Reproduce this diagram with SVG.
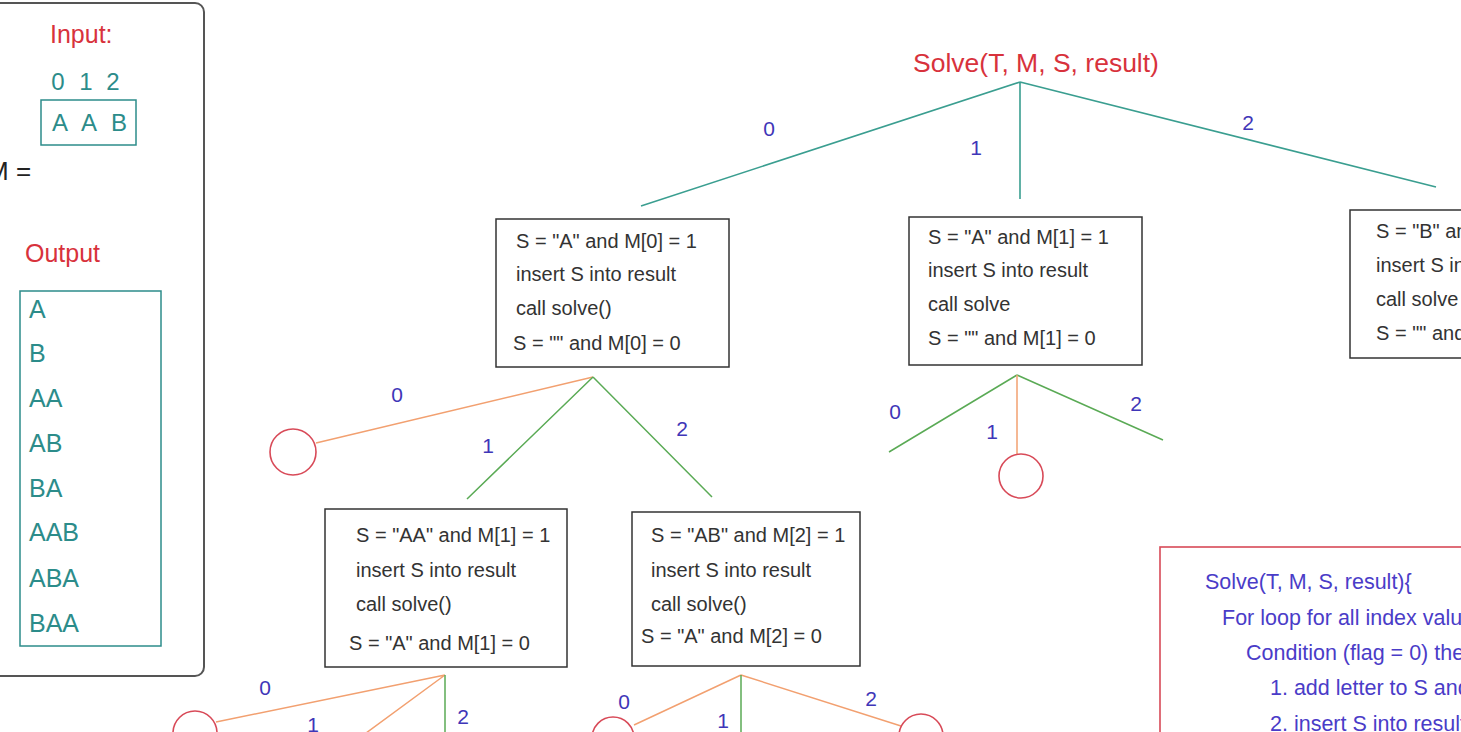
<svg xmlns="http://www.w3.org/2000/svg" width="1461" height="732" viewBox="0 0 1461 732">
<style>
text{font-family:"Liberation Sans",Arial,sans-serif}
.box{fill:#fff;stroke:#333;stroke-width:1.5}
.bt{font-size:20px;fill:#333}
.lbl{font-size:21px;fill:#3f36b8}
.teal{fill:#2c8c8a}
.red{fill:#d8323c}
.tl{stroke:#3a9e90;stroke-width:1.6;fill:none}
.gl{stroke:#5aaa55;stroke-width:1.5;fill:none}
.ol{stroke:#f2a070;stroke-width:1.5;fill:none}
.circ{fill:none;stroke:#d84a58;stroke-width:1.6}
.code{font-size:21.5px;fill:#4a3cc8}
</style>
<rect x="0" y="0" width="1461" height="732" fill="#fff"/>

<g id="panel">
<rect x="-12" y="3" width="216" height="673" rx="9" fill="#fff" stroke="#555" stroke-width="2"/>
<text x="50" y="43" font-size="25" class="red">Input:</text>
<text x="58" y="90" font-size="24" class="teal" text-anchor="middle">0</text>
<text x="86" y="90" font-size="24" class="teal" text-anchor="middle">1</text>
<text x="113" y="90" font-size="24" class="teal" text-anchor="middle">2</text>
<rect x="41" y="100" width="95" height="45" fill="none" stroke="#2c8c8a" stroke-width="1.5"/>
<text x="60" y="131" font-size="24" class="teal" text-anchor="middle">A</text>
<text x="89" y="131" font-size="24" class="teal" text-anchor="middle">A</text>
<text x="119" y="131" font-size="24" class="teal" text-anchor="middle">B</text>
<text x="-13" y="180" font-size="26" fill="#222">M =</text>
<text x="25" y="262" font-size="25" class="red">Output</text>
<rect x="20" y="291" width="141" height="355" fill="none" stroke="#2c8c8a" stroke-width="1.5"/>
<g font-size="25" class="teal">
<text x="29" y="318">A</text>
<text x="29" y="362">B</text>
<text x="29" y="407">AA</text>
<text x="29" y="452">AB</text>
<text x="29" y="497">BA</text>
<text x="29" y="541">AAB</text>
<text x="29" y="587">ABA</text>
<text x="29" y="632">BAA</text>
</g>
</g>

<g id="connectors">
<path class="tl" d="M1020 82 L641 206 M1020 82 L1020 199 M1020 82 L1436 187"/>
<path class="ol" d="M593 377 L316 443"/>
<path class="gl" d="M593 377 L467 499 M593 377 L712 497"/>
<path class="gl" d="M1017 375 L889 452 M1017 375 L1163 440"/>
<path class="ol" d="M1017 375 L1017 455"/>
<path class="ol" d="M445 675 L216 722 M445 675 L362 736"/>
<path class="gl" d="M445 675 L445 736"/>
<path class="ol" d="M741 675 L634 725 M741 675 L901 726"/>
<path class="gl" d="M741 675 L741 736"/>
<g class="lbl">
<text x="769" y="136" text-anchor="middle">0</text>
<text x="976" y="155" text-anchor="middle">1</text>
<text x="1248" y="130" text-anchor="middle">2</text>
<text x="397" y="402" text-anchor="middle">0</text>
<text x="488" y="453" text-anchor="middle">1</text>
<text x="682" y="436" text-anchor="middle">2</text>
<text x="895" y="419" text-anchor="middle">0</text>
<text x="992" y="439" text-anchor="middle">1</text>
<text x="1136" y="411" text-anchor="middle">2</text>
<text x="265" y="695" text-anchor="middle">0</text>
<text x="313" y="732" text-anchor="middle">1</text>
<text x="463" y="724" text-anchor="middle">2</text>
<text x="624" y="709" text-anchor="middle">0</text>
<text x="723" y="728" text-anchor="middle">1</text>
<text x="871" y="706" text-anchor="middle">2</text>
</g>
</g>

<g id="root">
<text x="1036" y="72" font-size="26.5" class="red" text-anchor="middle">Solve(T, M, S, result)</text>
</g>

<g id="node-0">
<rect class="box" x="496" y="219" width="233" height="148"/>
<text class="bt" x="516" y="248">S = "A" and M[0] = 1</text>
<text class="bt" x="516" y="281">insert S into result</text>
<text class="bt" x="516" y="315">call solve()</text>
<text class="bt" x="513" y="350">S = "" and M[0] = 0</text>
</g>

<g id="node-1">
<rect class="box" x="909" y="217" width="233" height="148"/>
<text class="bt" x="928" y="244">S = "A" and M[1] = 1</text>
<text class="bt" x="928" y="277">insert S into result</text>
<text class="bt" x="928" y="311">call solve</text>
<text class="bt" x="928" y="345">S = "" and M[1] = 0</text>
</g>

<g id="node-2">
<rect class="box" x="1350" y="210" width="140" height="148"/>
<text class="bt" x="1376" y="238">S = "B" and M[2] = 1</text>
<text class="bt" x="1376" y="272">insert S into result</text>
<text class="bt" x="1376" y="306">call solve</text>
<text class="bt" x="1376" y="340">S = "" and M[2] = 0</text>
</g>

<g id="node-00">
<circle class="circ" cx="293" cy="452" r="23"/>
</g>

<g id="node-01">
<rect class="box" x="325" y="509" width="242" height="158"/>
<text class="bt" x="356" y="542">S = "AA" and M[1] = 1</text>
<text class="bt" x="356" y="577">insert S into result</text>
<text class="bt" x="356" y="611">call solve()</text>
<text class="bt" x="349" y="650">S = "A" and M[1] = 0</text>
</g>

<g id="node-02">
<rect class="box" x="632" y="512" width="228" height="154"/>
<text class="bt" x="651" y="542">S = "AB" and M[2] = 1</text>
<text class="bt" x="651" y="577">insert S into result</text>
<text class="bt" x="651" y="611">call solve()</text>
<text class="bt" x="641" y="643">S = "A" and M[2] = 0</text>
</g>

<g id="node-11">
<circle class="circ" cx="1021" cy="476" r="22"/>
</g>

<g id="node-010">
<circle class="circ" cx="195" cy="733" r="22"/>
</g>
<g id="node-020">
<circle class="circ" cx="613" cy="738" r="21"/>
</g>
<g id="node-022">
<circle class="circ" cx="921" cy="736" r="22"/>
</g>

<g id="code">
<rect x="1160" y="547" width="320" height="200" fill="#fff" stroke="#d84a58" stroke-width="1.6"/>
<text class="code" x="1205" y="589">Solve(T, M, S, result){</text>
<text class="code" x="1222" y="625">For loop for all index values</text>
<text class="code" x="1246" y="660">Condition (flag = 0) then</text>
<text class="code" x="1270" y="695">1. add letter to S and M = 1</text>
<text class="code" x="1270" y="731">2. insert S into result</text>
</g>
</svg>
